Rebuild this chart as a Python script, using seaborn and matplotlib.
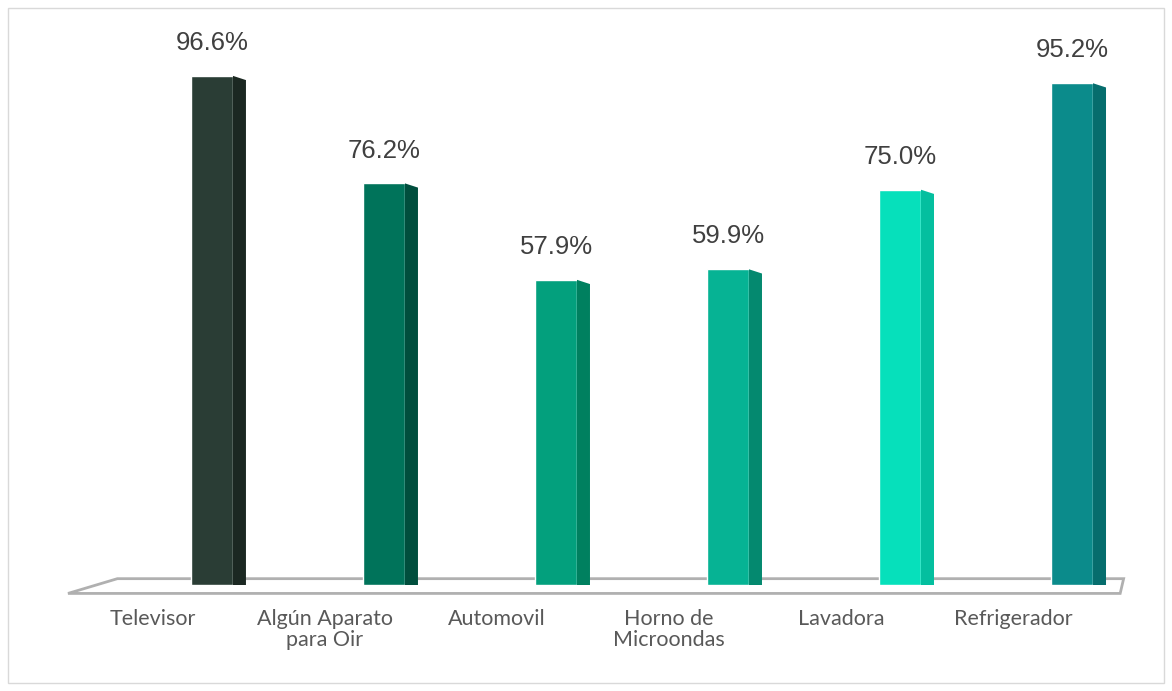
import numpy as np
import pandas as pd
import matplotlib
matplotlib.use("Agg")
import matplotlib.pyplot as plt
import matplotlib.transforms as mtransforms
from matplotlib.patches import Polygon, Rectangle
import seaborn as sns

# data
categories = ["Televisor", "Algún Aparato\npara Oir", "Automovil",
              "Horno de\nMicroondas", "Lavadora", "Refrigerador"]
values = [96.6, 76.2, 57.9, 59.9, 75.0, 95.2]
front_colors = ["#2a3d35", "#00735a", "#03a07d", "#06b394", "#06e0bb", "#0b8b8b"]
side_colors = ["#1b2822", "#004e3d", "#00805f", "#04896f", "#04bf9f", "#066d6d"]

sns.set_theme(style="white")
plt.rcParams['font.family'] = ['Lato', 'DejaVu Sans']

df = pd.DataFrame({"Equipo": categories, "Porcentaje": values})

fig = plt.figure(figsize=(11.72, 6.91), dpi=100)
ax = fig.add_axes([68 / 1172, 1 - 585 / 691, 1057 / 1172, (585 - 20) / 691])

bar_w = 0.244
sns.barplot(data=df, x="Equipo", y="Porcentaje", hue="Equipo",
            palette=front_colors, width=bar_w, legend=False,
            saturation=1, ax=ax, zorder=3)

ax.set_xlim(-0.837, 5.308)
ax.set_ylim(0, 107.2)

# floor of the pseudo 3D chart
floor = Polygon([(-0.837, -1.6), (5.28, -1.6), (5.3, 1.2), (-0.55, 1.2)],
                closed=True, fill=False, edgecolor="#b0b0b0", lw=2,
                zorder=2, clip_on=False)
ax.add_patch(floor)

# side faces give the bars some depth
depth = 13 / 172
for bar, sc in zip(ax.patches[:len(values)], side_colors):
    x1 = bar.get_x() + bar.get_width()
    h = bar.get_height()
    side = Polygon([(x1, 0), (x1 + depth, 0), (x1 + depth, h - 0.8), (x1, h)],
                   closed=True, facecolor=sc, edgecolor="none", zorder=3)
    ax.add_patch(side)

for bar, v in zip(ax.patches[:len(values)], values):
    ax.annotate(f"{v:.1f}%", (bar.get_x() + bar.get_width() / 2, bar.get_height()),
                xytext=(0, 15), textcoords="offset points", ha="center", va="bottom",
                fontsize=18.5, color="#404040", family=["Liberation Sans", "DejaVu Sans"])

ax.set_xlabel("")
ax.set_ylabel("")
ax.set_yticks([])
ax.tick_params(axis="x", length=0, pad=17)
ax.set_xticks(range(len(categories)))
ax.set_xticklabels(categories, fontsize=15.5, color="#595959", linespacing=1.1)
shift = mtransforms.ScaledTranslation(-0.59, 0, fig.dpi_scale_trans)
for lab in ax.get_xticklabels():
    lab.set_transform(lab.get_transform() + shift)
    lab.set_verticalalignment("top")

for s in ax.spines.values():
    s.set_visible(False)

# light frame round the whole chart
fig.patches.append(Rectangle((8 / 1172, 8 / 691), 1 - 16 / 1172, 1 - 16 / 691,
                             transform=fig.transFigure, fill=False,
                             edgecolor="#d9d9d9", lw=1))

fig.savefig("out.png", dpi=100)
